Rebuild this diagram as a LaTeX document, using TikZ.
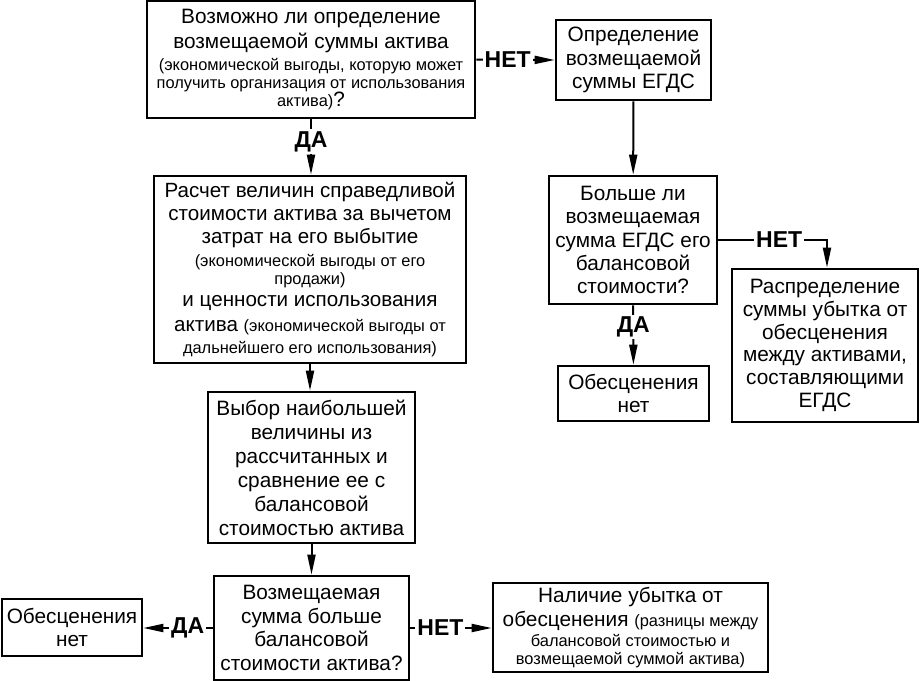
\documentclass[tikz,border=0pt]{standalone}
\usepackage{fontspec}
\setmainfont{Liberation Sans}
\usetikzlibrary{arrows.meta}
\newcommand{\sm}[1]{{\fontsize{8.2}{9}\selectfont #1}}
\begin{document}
\begin{tikzpicture}[x=0.5pt,y=-0.5pt,>={Triangle[length=10pt,width=4pt]},
    blk/.style={draw,line width=1.3pt,align=center,inner sep=1pt,font=\fontsize{#1}{11.7}\selectfont},
    blk/.default=10.4,
    lnk/.style={line width=1pt},
    lbl/.style={fill=white,inner sep=1pt,font=\fontsize{11.5}{12}\selectfont\bfseries}]
    \useasboundingbox(0,0)rectangle(923,681);
    % left column
    \node[blk,minimum width=164pt,minimum height=58.5pt](q1)at(311,59.5){Возможно ли определение\\[0.8pt]возмещаемой суммы актива\\[-0.7pt]\sm{(экономической выгоды, которую может}\\[-2.7pt]\sm{получить организация от использования}\\[-2.7pt]\sm{актива)}?};
    \node[blk=10.3,minimum width=156pt,minimum height=93.5pt](calc)at(310,269.5){Расчет величин справедливой\\стоимости актива за вычетом\\затрат на его выбытие\\[-0.2pt]\sm{(экономической выгоды от его}\\[-2.7pt]\sm{продажи)}\\[-0.7pt]и ценности использования\\[0.8pt]актива \sm{(экономической выгоды от}\\[-0.7pt]\sm{дальнейшего его использования)}};
    \node[blk,minimum width=103.5pt,minimum height=75.5pt](choice)at(311.5,467.5){Выбор наибольшей\\[0.3pt]величины из\\[0.3pt]рассчитанных и\\[0.3pt]сравнение ее с\\[0.3pt]балансовой\\[0.3pt]стоимостью актива};
    \node[blk,minimum width=97.5pt,minimum height=52pt](q3)at(311.5,628){Возмещаемая\\сумма больше\\балансовой\\стоимости актива?};
    \node[blk,minimum width=70pt,minimum height=28.5pt](none2)at(72,627.5){Обесценения\\нет};
    \node[blk,minimum width=137.5pt,minimum height=44.5pt](loss)at(630.5,627.5){Наличие убытка от\\[0.3pt]обесценения \sm{(разницы между}\\[-1.7pt]\sm{балансовой стоимостью и}\\[-2.7pt]\sm{возмещаемой суммой актива)}};
    % right column
    \node[blk,minimum width=77.5pt,minimum height=40pt](egds)at(633.5,60){Определение\\возмещаемой\\суммы ЕГДС};
    \node[blk,minimum width=84pt,minimum height=64pt](q2)at(633,240){Больше ли\\возмещаемая\\сумма ЕГДС его\\балансовой\\стоимости?};
    \node[blk,minimum width=75.5pt,minimum height=27.5pt](none1)at(633.5,393.5){Обесценения\\нет};
    \node[blk,minimum width=93pt,minimum height=76.5pt](alloc)at(825,345.5){Распределение\\[-0.35pt]суммы убытка от\\[-0.35pt]обесценения\\[-0.35pt]между активами,\\[-0.35pt]составляющими\\[-0.35pt]ЕГДС};
    % connectors
    \draw[lnk,->](q1.east)--node[lbl,pos=0.4]{НЕТ}(egds.west);
    \draw[lnk,->](q1.south)--node[lbl,pos=0.4]{ДА}(q1.south|-calc.north);
    \draw[lnk,->](calc.south)--(calc.south|-choice.north);
    \draw[lnk,->](choice)--(q3);
    \draw[lnk,->](q3.west)--node[lbl,pos=0.36]{ДА}(q3.west-|none2.east);
    \draw[lnk,->](q3.east)--node[lbl,pos=0.37]{НЕТ}(q3.east-|loss.west);
    \draw[lnk,->](egds)--(q2);
    \draw[lnk,->](q2)--node[lbl,pos=0.37]{ДА}(none1);
    \draw[lnk,->](q2.east)-|node[lbl,pos=0.28]{НЕТ}([xshift=1pt]alloc.north);
\end{tikzpicture}
\end{document}
